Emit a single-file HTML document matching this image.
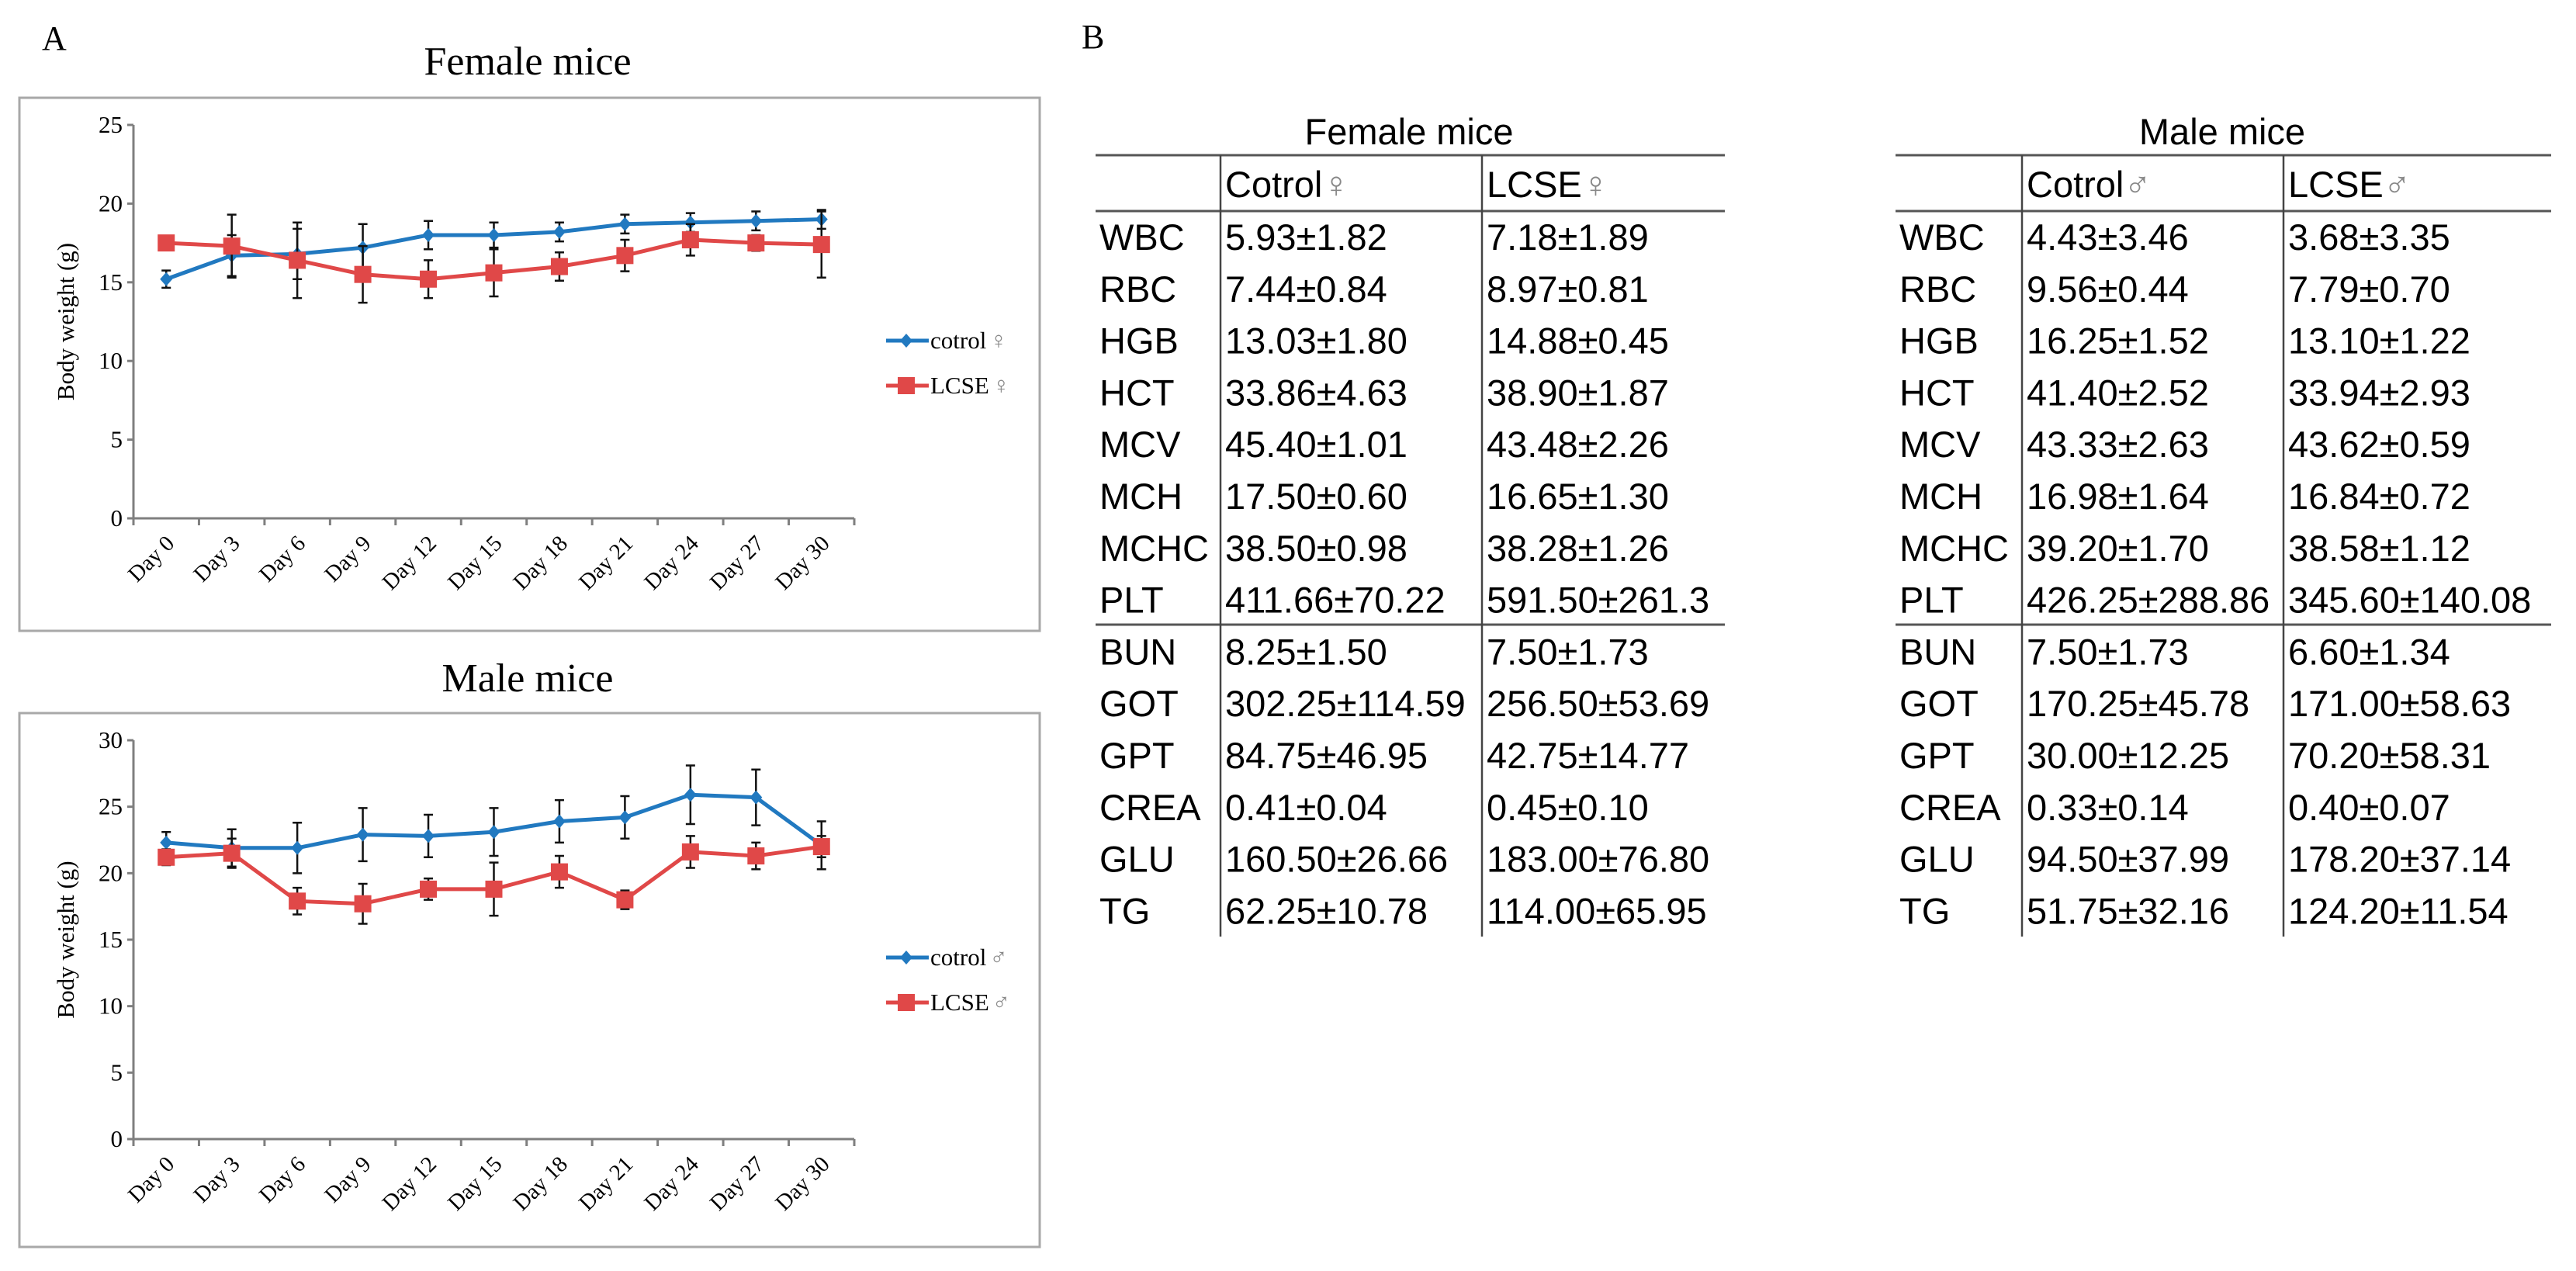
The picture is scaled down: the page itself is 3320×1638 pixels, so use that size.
<!DOCTYPE html>
<html><head><meta charset="utf-8">
<style>
html,body{margin:0;padding:0;background:#fff;}
svg{display:block;}
.ser{font-family:"Liberation Serif",serif;}
.san{font-family:"Liberation Sans",sans-serif;}
</style></head>
<body>
<svg id="fig" width="3320" height="1638" viewBox="0 0 3320 1638" xmlns="http://www.w3.org/2000/svg">
<rect width="3320" height="1638" fill="#fff"/>
<text x="54" y="64" class="ser" font-size="44">A</text>
<text x="1394" y="62" class="ser" font-size="44">B</text>
<text x="680" y="96" class="ser" font-size="52" text-anchor="middle">Female mice</text>
<text x="680" y="891" class="ser" font-size="52" text-anchor="middle">Male mice</text>
<rect x="25" y="126" width="1315" height="687" fill="none" stroke="#a8a8a8" stroke-width="3"/>
<rect x="25" y="919" width="1315" height="688" fill="none" stroke="#a8a8a8" stroke-width="3"/>
<g id="femaleChart"></g>
<g id="maleChart"></g>
<g id="tables"></g>
</svg>
<script>
const categories = ["Day 0","Day 3","Day 6","Day 9","Day 12","Day 15","Day 18","Day 21","Day 24","Day 27","Day 30"];
const femaleControl = [15.2,16.7,16.8,17.2,18.0,18.0,18.2,18.7,18.8,18.9,19.0];
const femaleControlErr = [0.55,1.3,1.6,1.5,0.9,0.8,0.6,0.6,0.6,0.6,0.6];
const femaleLCSE = [17.5,17.3,16.4,15.5,15.2,15.6,16.0,16.7,17.7,17.5,17.4];
const femaleLCSEErr = [0.3,2.0,2.4,1.8,1.2,1.5,0.9,1.0,1.0,0.5,2.1];
const maleControl = [22.3,21.9,21.9,22.9,22.8,23.1,23.9,24.2,25.9,25.7,22.1];
const maleControlErr = [0.8,1.4,1.9,2.0,1.6,1.8,1.6,1.6,2.2,2.1,1.8];
const maleLCSE = [21.2,21.5,17.9,17.7,18.8,18.8,20.1,18.0,21.6,21.3,22.0];
const maleLCSEErr = [0.6,1.1,1.0,1.5,0.8,2.0,1.2,0.7,1.2,1.0,0.8];
const femaleTicks = [0,5,10,15,20,25];
const maleTicks = [0,5,10,15,20,25,30];

const rowLabels = ["WBC","RBC","HGB","HCT","MCV","MCH","MCHC","PLT","BUN","GOT","GPT","CREA","GLU","TG"];
const femaleCtrlCol = ["5.93±1.82","7.44±0.84","13.03±1.80","33.86±4.63","45.40±1.01","17.50±0.60","38.50±0.98","411.66±70.22","8.25±1.50","302.25±114.59","84.75±46.95","0.41±0.04","160.50±26.66","62.25±10.78"];
const femaleLcseCol = ["7.18±1.89","8.97±0.81","14.88±0.45","38.90±1.87","43.48±2.26","16.65±1.30","38.28±1.26","591.50±261.3","7.50±1.73","256.50±53.69","42.75±14.77","0.45±0.10","183.00±76.80","114.00±65.95"];
const maleCtrlCol = ["4.43±3.46","9.56±0.44","16.25±1.52","41.40±2.52","43.33±2.63","16.98±1.64","39.20±1.70","426.25±288.86","7.50±1.73","170.25±45.78","30.00±12.25","0.33±0.14","94.50±37.99","51.75±32.16"];
const maleLcseCol = ["3.68±3.35","7.79±0.70","13.10±1.22","33.94±2.93","43.62±0.59","16.84±0.72","38.58±1.12","345.60±140.08","6.60±1.34","171.00±58.63","70.20±58.31","0.40±0.07","178.20±37.14","124.20±11.54"];

const NS = "http://www.w3.org/2000/svg";
function mk(tag, attrs, parent){ const e=document.createElementNS(NS,tag); for(const k in attrs) e.setAttribute(k,attrs[k]); parent.appendChild(e); return e; }

function drawChart(g, cfg){
  const x0=172, x1=1101, n=categories.length, step=(x1-x0)/n;
  const yS = v => cfg.yBot - (v-0)/(cfg.yMax)*(cfg.yBot-cfg.yTop);
  const xS = i => x0 + (i+0.5)*step;
  let a = mk('line',{x1:x0,y1:cfg.yTop,x2:x0,y2:cfg.yBot,stroke:'#7f7f7f','stroke-width':3},g);
   
  a = mk('line',{x1:x0,y1:cfg.yBot,x2:x1,y2:cfg.yBot,stroke:'#7f7f7f','stroke-width':3},g);
   
  cfg.ticks.forEach(t=>{
    mk('line',{x1:x0-8,y1:yS(t),x2:x0,y2:yS(t),stroke:'#7f7f7f','stroke-width':3},g);
    const tx = mk('text',{x:x0-14,y:yS(t)+10,'text-anchor':'end','font-size':31,class:'ser'},g);
    tx.textContent=t;
     
  });
  for(let i=0;i<=n;i++) mk('line',{x1:x0+i*step,y1:cfg.yBot,x2:x0+i*step,y2:cfg.yBot+9,stroke:'#7f7f7f','stroke-width':3},g);
  categories.forEach((c,i)=>{
    const cx=xS(i)+12, cy=cfg.yBot+34;
    const t=mk('text',{x:cx,y:cy,'text-anchor':'end','font-size':29,class:'ser',transform:`rotate(-45 ${cx} ${cy})`},g);
    t.textContent=c;
     
  });
  const yt=mk('text',{x:0,y:0,'text-anchor':'middle','font-size':31,class:'ser',transform:`translate(95 ${(cfg.yTop+cfg.yBot)/2}) rotate(-90)`},g);
  yt.textContent='Body weight (g)';
   

  cfg.series.forEach(s=>{
    const sg=mk('g',{},g);
     
    s.vals.forEach((v,i)=>{
      const x=xS(i), top=yS(v+s.err[i]), bot=yS(v-s.err[i]);
      const e=mk('path',{d:`M${x} ${top}V${bot}M${x-6} ${top}H${x+6}M${x-6} ${bot}H${x+6}`,stroke:'#111','stroke-width':2.5,fill:'none'},sg);
       
    });
    const pts=s.vals.map((v,i)=>xS(i)+','+yS(v)).join(' ');
    const pl=mk('polyline',{points:pts,fill:'none',stroke:s.color,'stroke-width':5,'stroke-linejoin':'round'},sg);
     
    s.vals.forEach((v,i)=>{
      const x=xS(i), y=yS(v); let m;
      if(s.marker==='diamond') m=mk('path',{d:`M${x} ${y-9}L${x+8} ${y}L${x} ${y+9}L${x-8} ${y}Z`,fill:s.color},sg);
      else m=mk('rect',{x:x-11,y:y-11,width:22,height:22,fill:s.color},sg);
       
    });
  });
  cfg.series.forEach((s,k)=>{
    const ly=cfg.legY[k];
    const lg=mk('g',{},g);
     
    mk('line',{x1:1142,y1:ly,x2:1197,y2:ly,stroke:s.color,'stroke-width':5},lg);
    if(s.marker==='diamond') mk('path',{d:`M1168 ${ly-9}L1176 ${ly}L1168 ${ly+9}L1160 ${ly}Z`,fill:s.color},lg);
    else mk('rect',{x:1157,y:ly-11,width:22,height:22,fill:s.color},lg);
    const t=mk('text',{x:1199,y:ly+10,'font-size':31,class:'ser'},lg);
    t.textContent=s.label;
    const sy=mk('tspan',{fill:'#888',dx:4},t); sy.textContent=cfg.sym;
  });
}

drawChart(document.getElementById('femaleChart'),{yTop:161,yBot:668,yMax:25,ticks:femaleTicks,sym:'♀',legY:[439,497],
  series:[{name:'control-female',label:'cotrol',vals:femaleControl,err:femaleControlErr,color:'#2179c0',marker:'diamond'},
          {name:'lcse-female',label:'LCSE',vals:femaleLCSE,err:femaleLCSEErr,color:'#e04848',marker:'square'}]});
drawChart(document.getElementById('maleChart'),{yTop:954,yBot:1468,yMax:30,ticks:maleTicks,sym:'♂',legY:[1234,1292],
  series:[{name:'control-male',label:'cotrol',vals:maleControl,err:maleControlErr,color:'#2179c0',marker:'diamond'},
          {name:'lcse-male',label:'LCSE',vals:maleLCSE,err:maleLCSEErr,color:'#e04848',marker:'square'}]});

function drawTable(g, t){
  const L=t.x0, R=t.x3, fs=47;
  const tt=mk('text',{x:t.titleX,y:186,'text-anchor':'middle','font-size':fs,class:'san'},g);
  tt.textContent=t.title;
   
  mk('line',{x1:L,y1:200,x2:R,y2:200,stroke:'#555','stroke-width':3},g);
  mk('line',{x1:L,y1:272,x2:R,y2:272,stroke:'#555','stroke-width':3},g);
  mk('line',{x1:L,y1:805,x2:R,y2:805,stroke:'#555','stroke-width':3},g);
  mk('line',{x1:t.x1,y1:200,x2:t.x1,y2:1207,stroke:'#444','stroke-width':2.5},g);
  mk('line',{x1:t.x2,y1:200,x2:t.x2,y2:1207,stroke:'#444','stroke-width':2.5},g);
  const h1=mk('text',{x:t.x1+6,y:254,'font-size':fs,class:'san'},g);
  h1.textContent='Cotrol'; mk('tspan',{fill:'#888'},h1).textContent=t.sym;
   
  const h2=mk('text',{x:t.x2+6,y:254,'font-size':fs,class:'san'},g);
  h2.textContent='LCSE'; mk('tspan',{fill:'#888'},h2).textContent=t.sym;
   
  rowLabels.forEach((r,i)=>{
    const y=306+i*66.8+16;
    const a=mk('text',{x:L+5,y:y,'font-size':fs,class:'san'},g); a.textContent=r;
     
    const b=mk('text',{x:t.x1+6,y:y,'font-size':fs,class:'san'},g); b.textContent=t.c1[i];
     
    const c=mk('text',{x:t.x2+6,y:y,'font-size':fs,class:'san'},g); c.textContent=t.c2[i];
     
  });
}
const tg=document.getElementById('tables');
drawTable(tg,{title:'Female mice',titleX:1816,x0:1412,x1:1573,x2:1910,x3:2223,sym:'♀',c1:femaleCtrlCol,c2:femaleLcseCol});
drawTable(tg,{title:'Male mice',titleX:2864,x0:2443,x1:2606,x2:2943,x3:3288,sym:'♂',c1:maleCtrlCol,c2:maleLcseCol});
</script>
</body></html>
